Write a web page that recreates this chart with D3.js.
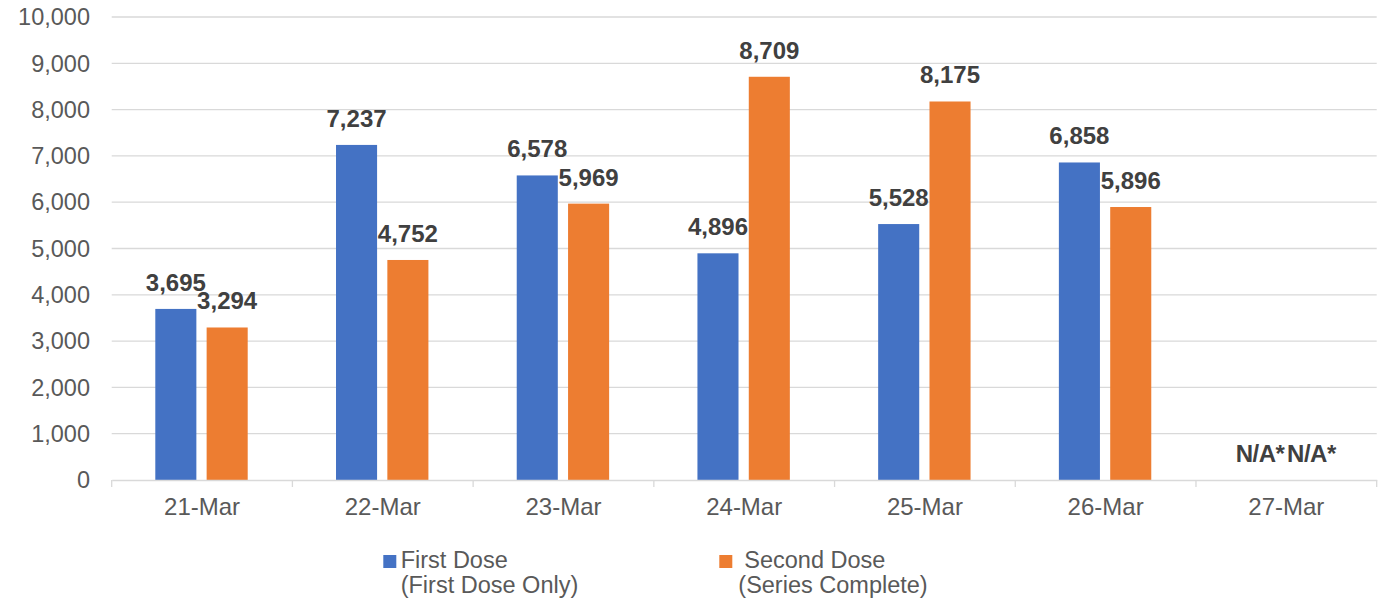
<!DOCTYPE html>
<html>
<head>
  <meta charset="utf-8">
  <script src="https://d3js.org/d3.v7.min.js"></script>
  <style>
    body { margin: 0; background: #fff; }
    text { font-family: "Liberation Sans", Arial, sans-serif; }
  </style>
</head>
<body>
  <div id="chart"></div>
  <script type="text/javascript">
    // chart data
    var days = ["21-Mar", "22-Mar", "23-Mar", "24-Mar", "25-Mar", "26-Mar", "27-Mar"];
    var firstDose = [3695, 7237, 6578, 4896, 5528, 6858, null];
    var secondDose = [3294, 4752, 5969, 8709, 8175, 5896, null];
    var yTicks = [0, 1000, 2000, 3000, 4000, 5000, 6000, 7000, 8000, 9000, 10000];
    var seriesNames = [["First Dose", "(First Dose Only)"], ["Second Dose", "(Series Complete)"]];
    var colors = ["#4472C4", "#ED7D31"];

    var W = 1385, H = 603;
    var margin = { top: 17, left: 111.7 };
    var width = 1376.7 - margin.left;
    var height = 480 - margin.top;

    var svg = d3.select("#chart").append("svg")
      .attr("width", W)
      .attr("height", H);
    var g = svg.append("g")
      .attr("transform", "translate(" + margin.left + "," + margin.top + ")");

    var x = d3.scaleBand().domain(days).range([0, width]).paddingInner(0).paddingOuter(0);
    var x1 = d3.scaleBand().domain([0, 1]).range([43.6, 43.6 + 92.4]).paddingInner(0.2);
    var y = d3.scaleLinear().domain([0, 10000]).range([height, 0]);

    // gridlines
    g.selectAll(".grid").data(yTicks.slice(1))
      .enter().append("line")
      .attr("x1", 0).attr("x2", width)
      .attr("y1", function (d) { return y(d); })
      .attr("y2", function (d) { return y(d); })
      .attr("stroke", "#d9d9d9").attr("stroke-width", 1.3);

    // y labels
    g.selectAll(".ylab").data(yTicks)
      .enter().append("text")
      .attr("x", 90 - margin.left)
      .attr("y", function (d) { return y(d); })
      .attr("dy", "0.35em")
      .attr("text-anchor", "end")
      .attr("fill", "#595959")
      .style("font-size", "23.5px")
      .text(function (d) { return d3.format(",")(d); });

    // bars + value labels
    var series = [firstDose, secondDose];
    series.forEach(function (vals, s) {
      g.selectAll(".bar" + s).data(days)
        .enter().append("rect")
        .filter(function (d, i) { return vals[i] != null; })
        .attr("x", function (d) { return x(d) + x1(s); })
        .attr("width", x1.bandwidth())
        .attr("y", function (d) { return y(vals[days.indexOf(d)]); })
        .attr("height", function (d) { return height - y(vals[days.indexOf(d)]); })
        .attr("fill", colors[s]);

      g.selectAll(".lab" + s).data(days)
        .enter().append("text")
        .attr("x", function (d) { return x(d) + x1(s) + x1.bandwidth() / 2; })
        .attr("y", function (d, i) { return y(vals[i] == null ? 0 : vals[i]) - 18; })
        .attr("text-anchor", "middle")
        .attr("fill", "#404040")
        .style("font-size", "24px")
        .style("font-weight", "bold")
        .style("letter-spacing", function (d, i) { return vals[i] == null ? "-0.5px" : null; })
        .text(function (d, i) { return vals[i] == null ? "N/A*" : d3.format(",")(vals[i]); });
    });

    // x axis
    var xAxis = g.append("g")
      .attr("transform", "translate(0," + height + ")")
      .call(d3.axisBottom(x).tickSize(0).tickPadding(18));
    xAxis.select(".domain").attr("stroke", "#d9d9d9").attr("stroke-width", 1.3);
    xAxis.selectAll("text")
      .attr("fill", "#595959")
      .style("font-size", "24px")
      .style("font-family", "'Liberation Sans', Arial, sans-serif");
    xAxis.selectAll(".sep").data(d3.range(days.length + 1))
      .enter().append("line")
      .attr("x1", function (i) { return i * x.bandwidth(); })
      .attr("x2", function (i) { return i * x.bandwidth(); })
      .attr("y1", 0).attr("y2", 7)
      .attr("stroke", "#d9d9d9").attr("stroke-width", 1.3);

    // legend
    var legendX = [383.3, 719.3];
    var legend = svg.selectAll(".legend").data(seriesNames)
      .enter().append("g")
      .attr("transform", function (d, i) { return "translate(" + legendX[i] + ",0)"; });
    legend.append("rect")
      .attr("x", 0).attr("y", 555)
      .attr("width", 13).attr("height", 13)
      .attr("fill", function (d, i) { return colors[i]; });
    legend.append("text")
      .attr("x", function (d, i) { return i == 0 ? 17.4 : 25; })
      .attr("y", 568)
      .attr("fill", "#595959")
      .style("font-size", "23.5px")
      .text(function (d) { return d[0]; });
    legend.append("text")
      .attr("x", function (d, i) { return i == 0 ? 17.4 : 19; })
      .attr("y", 593)
      .attr("fill", "#595959")
      .style("font-size", "23.5px")
      .text(function (d) { return d[1]; });
  </script>
</body>
</html>
